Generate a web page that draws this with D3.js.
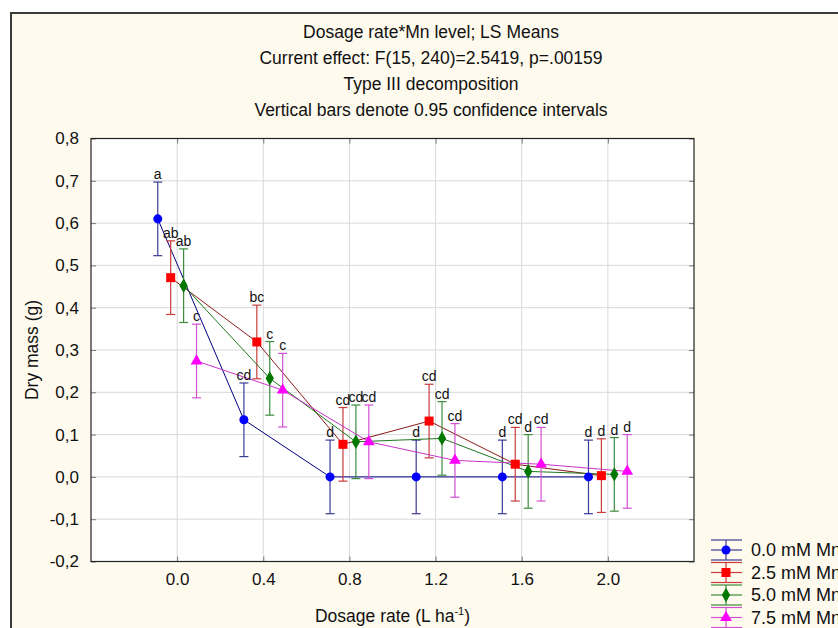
<!DOCTYPE html>
<html>
<head>
<meta charset="utf-8">
<script src="https://cdn.jsdelivr.net/npm/d3@7"></script>
<style>
  html, body { margin: 0; padding: 0; background: #ffffff; }
  svg { display: block; }
  text { font-family: Arial, "Liberation Sans", sans-serif; fill: #111; }
</style>
</head>
<body>
<svg id="chart" width="838" height="628"></svg>
<script>
// Dosage rates (L/ha) on the x axis
const dosage = [0.0, 0.4, 0.8, 1.2, 1.6, 2.0];

// Mn levels (legend entries)
const mnLevels = ["0.0 mM Mn", "2.5 mM Mn", "5.0 mM Mn", "7.5 mM Mn"];

// LS means of dry mass (g) for each Mn level
const mean00 = [0.610, 0.135, 0.000, 0.000, 0.000, 0.000];
const mean25 = [0.471, 0.319, 0.077, 0.132, 0.030, 0.003];
const mean50 = [0.452, 0.233, 0.083, 0.091, 0.013, 0.006];
const mean75 = [0.274, 0.205, 0.083, 0.039, 0.030, 0.013];

// Half-width of the 0.95 confidence intervals
const ci00 = [0.087, 0.087, 0.087, 0.087, 0.087, 0.087];
const ci25 = [0.087, 0.087, 0.087, 0.087, 0.087, 0.087];
const ci50 = [0.087, 0.087, 0.087, 0.087, 0.087, 0.087];
const ci75 = [0.087, 0.087, 0.087, 0.087, 0.087, 0.087];

// Significance letters shown above each interval
const letters00 = ["a", "cd", "d", "d", "d", "d"];
const letters25 = ["ab", "bc", "cd", "cd", "cd", "d"];
const letters50 = ["ab", "c", "cd", "cd", "d", "d"];
const letters75 = ["c", "c", "cd", "cd", "cd", "d"];

// Axis ticks
const xTicks = [0.0, 0.4, 0.8, 1.2, 1.6, 2.0];
const yTicks = [-0.2, -0.1, 0.0, 0.1, 0.2, 0.3, 0.4, 0.5, 0.6, 0.7, 0.8];

const titleLines = [
  "Dosage rate*Mn level; LS Means",
  "Current effect: F(15, 240)=2.5419, p=.00159",
  "Type III decomposition",
  "Vertical bars denote 0.95 confidence intervals"
];

const series = [
  { name: mnLevels[0], mean: mean00, ci: ci00, letters: letters00, shape: "circle",
    marker: "#0000ff", line: "#000080", bar: "#3c3c96" },
  { name: mnLevels[1], mean: mean25, ci: ci25, letters: letters25, shape: "square",
    marker: "#ff0000", line: "#8b1a1a", bar: "#c83c3c" },
  { name: mnLevels[2], mean: mean50, ci: ci50, letters: letters50, shape: "diamond",
    marker: "#007800", line: "#1e781e", bar: "#3c8c3c" },
  { name: mnLevels[3], mean: mean75, ci: ci75, letters: letters75, shape: "triangle",
    marker: "#ff00ff", line: "#c832c8", bar: "#d250d2" }
];
// horizontal dodge of each series around the dosage position
const dodge = [-0.09, -0.03, 0.03, 0.09];

const svg = d3.select("#chart");

// cream graph window with dark frame
svg.append("rect").attr("x", 11).attr("y", 13).attr("width", 840).attr("height", 630)
  .attr("fill", "#fffaee").attr("stroke", "#3a3a3a").attr("stroke-width", 2);

const plot = { left: 91, top: 138.5, right: 694, bottom: 561.5 };

const x = d3.scaleLinear().domain([-0.4, 2.4]).range([plot.left, plot.right]);
const y = d3.scaleLinear().domain([-0.2, 0.8]).range([plot.bottom, plot.top]);

// titles
const titleG = svg.append("g").attr("text-anchor", "middle");
titleLines.forEach((t, i) => {
  titleG.append("text").attr("x", 431).attr("y", 37.5 + i * 26)
    .attr("font-size", 17.5).text(t);
});

// plot background
svg.append("rect").attr("x", plot.left).attr("y", plot.top)
  .attr("width", plot.right - plot.left).attr("height", plot.bottom - plot.top)
  .attr("fill", "#ffffff");

// gridlines
const grid = svg.append("g").attr("stroke", "#d9d9d9").attr("stroke-width", 1);
grid.selectAll("line.gy").data(yTicks.slice(1, -1)).join("line")
  .attr("x1", plot.left).attr("x2", plot.right)
  .attr("y1", d => y(d)).attr("y2", d => y(d));
grid.selectAll("line.gx").data(xTicks).join("line")
  .attr("x1", d => x(d)).attr("x2", d => x(d))
  .attr("y1", plot.top).attr("y2", plot.bottom);

// axes
const comma = d => d3.format(".1f")(d).replace(".", ",").replace("−", "-");
const yAxis = d3.axisLeft(y).tickValues(yTicks).tickFormat(comma)
  .tickSizeInner(-5).tickSizeOuter(0).tickPadding(12);
const yAxisR = d3.axisRight(y).tickValues(yTicks).tickFormat("")
  .tickSizeInner(-5).tickSizeOuter(0);
const xAxis = d3.axisBottom(x).tickValues(xTicks).tickFormat(d3.format(".1f"))
  .tickSizeInner(-5).tickSizeOuter(0).tickPadding(11);
const xAxisT = d3.axisTop(x).tickValues(xTicks).tickFormat("")
  .tickSizeInner(-5).tickSizeOuter(0);

function styleAxis(g) {
  g.select(".domain").remove();
  g.selectAll(".tick line").attr("stroke", "#7a7a7a");
  g.selectAll(".tick text").attr("font-family", "Arial, 'Liberation Sans', sans-serif")
    .attr("font-size", 17).attr("fill", "#111");
}
svg.append("g").attr("transform", `translate(${plot.left},0)`).call(yAxis).call(styleAxis);
svg.append("g").attr("transform", `translate(${plot.right},0)`).call(yAxisR).call(styleAxis);
svg.append("g").attr("transform", `translate(0,${plot.bottom})`).call(xAxis).call(styleAxis);
svg.append("g").attr("transform", `translate(0,${plot.top})`).call(xAxisT).call(styleAxis);

// plot frame
svg.append("rect").attr("x", plot.left).attr("y", plot.top)
  .attr("width", plot.right - plot.left).attr("height", plot.bottom - plot.top)
  .attr("fill", "none").attr("stroke", "#222").attr("stroke-width", 1.2);

// axis titles
svg.append("text").attr("transform", `translate(38,${(plot.top + plot.bottom) / 2}) rotate(-90)`)
  .attr("text-anchor", "middle").attr("font-size", 17.5).text("Dry mass (g)");
const xt = svg.append("text").attr("x", (plot.left + plot.right) / 2).attr("y", 622)
  .attr("text-anchor", "middle").attr("font-size", 17.5);
xt.append("tspan").text("Dosage rate (L ha");
xt.append("tspan").attr("dy", -7).attr("font-size", 11).text("-1");
xt.append("tspan").attr("dy", 7).text(")");

// marker shapes
const symType = { circle: d3.symbolCircle, square: d3.symbolSquare, diamond: d3.symbolDiamond, triangle: d3.symbolTriangle };
const symSize = { circle: 64, square: 81, diamond: 60, triangle: 60 };
function markerPath(shape) { return d3.symbol().type(symType[shape]).size(symSize[shape])(); }

const capHalf = 4.5;
series.forEach((s, si) => {
  const g = svg.append("g");
  const pts = dosage.map((d, i) => ({ xv: d + dodge[si], m: s.mean[i], c: s.ci[i], lab: s.letters[i] }));
  // connecting line
  g.append("path").datum(pts)
    .attr("d", d3.line().x(p => x(p.xv)).y(p => y(p.m)))
    .attr("fill", "none").attr("stroke", s.line).attr("stroke-width", 1);
  // error bars
  const eb = g.selectAll("g.eb").data(pts).join("g").attr("stroke", s.bar).attr("stroke-width", 1.2);
  eb.append("line").attr("x1", p => x(p.xv)).attr("x2", p => x(p.xv))
    .attr("y1", p => y(p.m + p.c)).attr("y2", p => y(p.m - p.c));
  eb.append("line").attr("x1", p => x(p.xv) - capHalf).attr("x2", p => x(p.xv) + capHalf)
    .attr("y1", p => y(p.m + p.c)).attr("y2", p => y(p.m + p.c));
  eb.append("line").attr("x1", p => x(p.xv) - capHalf).attr("x2", p => x(p.xv) + capHalf)
    .attr("y1", p => y(p.m - p.c)).attr("y2", p => y(p.m - p.c));
  s.pts = pts;
});
// markers and letters on top
series.forEach((s, si) => {
  const g = svg.append("g");
  g.selectAll("path.mk").data(s.pts).join("path")
    .attr("transform", p => `translate(${x(p.xv)},${y(p.m)})`)
    .attr("d", markerPath(s.shape)).attr("fill", s.marker);
  g.selectAll("text.lab").data(s.pts).join("text")
    .attr("x", p => x(p.xv)).attr("y", p => y(p.m + p.c) - 3)
    .attr("text-anchor", "middle").attr("font-size", 14).attr("fill", "#333")
    .text(p => p.lab);
});

// legend
const leg = svg.append("g");
series.forEach((s, si) => {
  const cy = 550 + si * 22.5;
  const g = leg.append("g").attr("stroke", s.bar).attr("stroke-width", 1.2);
  [-10, 0, 10].forEach(dy => {
    g.append("line").attr("x1", 711).attr("x2", 742).attr("y1", cy + dy).attr("y2", cy + dy);
  });
  g.append("line").attr("x1", 726).attr("x2", 726).attr("y1", cy - 10).attr("y2", cy + 10);
  leg.append("path").attr("transform", `translate(726,${cy})`).attr("d", markerPath(s.shape)).attr("fill", s.marker);
  leg.append("text").attr("x", 751).attr("y", cy + 6).attr("font-size", 18).text(s.name);
});
</script>
</body>
</html>
